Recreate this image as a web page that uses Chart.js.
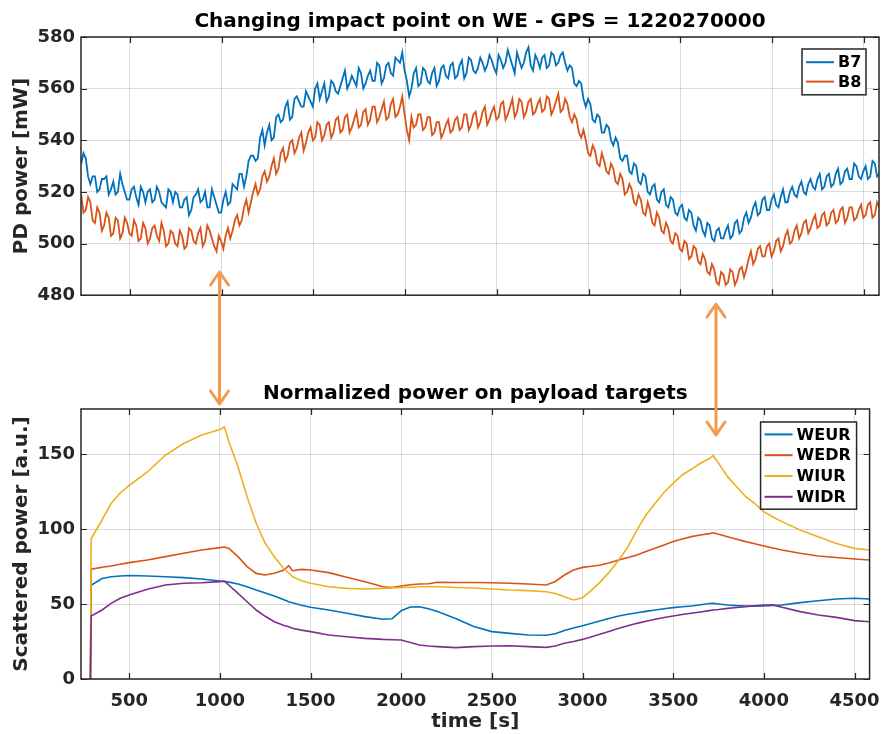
<!DOCTYPE html>
<html>
<head>
<meta charset="utf-8">
<script src="https://cdn.jsdelivr.net/npm/chart.js@4.4.0/dist/chart.umd.min.js"></script>
<style>
  html, body { margin: 0; padding: 0; background: #fff; }
  #page { position: relative; width: 892px; height: 734px; overflow: hidden; background: #fff; }
  #page canvas, #page svg { position: absolute; left: 0; }
  #topChart { top: 0; }
  #bottomChart { top: 370px; }
  #arrows { top: 0; pointer-events: none; }
</style>
</head>
<body>
<div id="page">
  <canvas id="topChart" width="892" height="312"></canvas>
  <canvas id="bottomChart" width="892" height="364"></canvas>
  <svg id="arrows" width="892" height="734">
    <g fill="none" stroke="#f39a4c" stroke-width="3" stroke-linecap="round" stroke-linejoin="round">
      <line x1="219.5" y1="273" x2="219.5" y2="403" />
      <polyline points="210.5,285 219.5,272 228.5,285" />
      <polyline points="210.5,391 219.5,404 228.5,391" />
      <line x1="716" y1="305" x2="716" y2="434" />
      <polyline points="707,317 716,304 725,317" />
      <polyline points="707,422 716,435 725,422" />
    </g>
  </svg>
</div>
<script>
// PD power on the two beams, one sample every 12.5 s starting at t = 235 s
const B7 = [
  531, 535, 533, 526, 523, 526, 526, 520, 521, 525, 525, 526, 519, 521, 524, 519, 520, 527, 523, 520,
  517, 517, 521, 522, 518, 515, 522, 520, 516, 520, 521, 516, 517, 522, 520, 516, 515, 514, 521, 520,
  516, 520, 519, 514, 514, 517, 518, 511, 513, 518, 519, 521, 516, 517, 520, 514, 514, 521, 518, 515,
  512, 512, 517, 520, 515, 516, 523, 522, 521, 527, 527, 522, 526, 532, 534, 534, 532, 533, 541, 544,
  538, 543, 546, 540, 541, 549, 550, 547, 548, 553, 555, 548, 549, 556, 557, 555, 553, 553, 559, 557,
  555, 553, 560, 562, 556, 559, 562, 555, 557, 563, 562, 559, 558, 561, 564, 567, 560, 562, 565, 563,
  561, 568, 566, 560, 562, 565, 567, 563, 563, 570, 569, 562, 564, 569, 570, 566, 565, 572, 571, 570,
  574, 567, 563, 557, 560, 566, 568, 561, 562, 568, 567, 563, 562, 566, 568, 561, 563, 568, 569, 565,
  564, 569, 570, 564, 565, 569, 571, 564, 566, 572, 571, 567, 566, 568, 572, 570, 567, 569, 573, 571,
  568, 566, 573, 571, 568, 570, 575, 572, 569, 566, 574, 571, 568, 570, 574, 576, 569, 567, 573, 571,
  568, 572, 573, 568, 569, 574, 573, 569, 570, 573, 574, 570, 567, 569, 568, 562, 561, 563, 562, 556,
  553, 556, 554, 548, 547, 550, 549, 543, 543, 546, 545, 540, 538, 541, 539, 533, 532, 534, 534, 528,
  527, 531, 530, 524, 523, 527, 526, 520, 519, 522, 523, 517, 516, 520, 521, 515, 514, 518, 517, 512,
  511, 514, 515, 510, 509, 513, 512, 507, 505, 510, 509, 505, 503, 508, 507, 502, 501, 505, 506, 502,
  502, 505, 507, 502, 503, 508, 509, 504, 505, 510, 512, 508, 510, 514, 516, 511, 512, 517, 518, 513,
  513, 517, 519, 515, 514, 518, 521, 516, 516, 520, 522, 519, 518, 522, 524, 520, 519, 523, 525, 522,
  521, 525, 527, 521, 522, 526, 527, 522, 523, 527, 529, 523, 524, 528, 529, 525, 525, 531, 530, 526,
  525, 528, 530, 525, 526, 532, 531, 526, 527
];
const B8 = [
  519, 512, 513, 518, 516, 509, 508, 514, 512, 505, 507, 512, 510, 503, 504, 510, 509, 502, 504, 510,
  508, 504, 503, 509, 507, 501, 502, 508, 506, 500, 502, 506, 507, 503, 501, 508, 505, 499, 500, 505,
  504, 500, 499, 505, 503, 498, 499, 506, 505, 501, 500, 504, 506, 499, 501, 507, 505, 502, 499, 497,
  503, 501, 498, 503, 506, 502, 505, 509, 511, 507, 509, 514, 517, 512, 516, 520, 523, 519, 521, 526,
  528, 524, 526, 530, 533, 527, 529, 535, 537, 532, 534, 539, 540, 535, 537, 541, 543, 536, 539, 543,
  545, 540, 541, 547, 546, 540, 542, 546, 547, 541, 543, 548, 549, 543, 544, 549, 550, 543, 545, 548,
  551, 545, 546, 551, 552, 546, 548, 553, 553, 547, 549, 552, 555, 548, 549, 554, 556, 549, 550, 553,
  557, 550, 544, 540, 549, 545, 546, 550, 550, 544, 545, 549, 549, 542, 543, 547, 547, 541, 543, 546,
  548, 543, 544, 548, 549, 544, 545, 550, 550, 544, 546, 550, 551, 545, 547, 551, 553, 546, 548, 551,
  553, 548, 549, 554, 555, 548, 550, 553, 556, 549, 551, 556, 555, 549, 551, 555, 556, 550, 551, 554,
  556, 551, 552, 557, 556, 550, 552, 555, 558, 551, 552, 556, 554, 549, 547, 550, 548, 543, 541, 544,
  540, 535, 534, 538, 536, 531, 530, 535, 532, 528, 527, 531, 529, 524, 523, 527, 525, 519, 520, 523,
  521, 516, 515, 519, 517, 512, 511, 516, 513, 508, 507, 512, 510, 505, 504, 508, 506, 501, 500, 504,
  503, 498, 497, 501, 500, 494, 495, 499, 498, 493, 492, 496, 494, 489, 488, 492, 490, 485, 484, 489,
  488, 484, 485, 490, 489, 484, 486, 490, 491, 487, 490, 494, 497, 492, 494, 498, 499, 495, 495, 499,
  500, 495, 497, 501, 502, 497, 499, 503, 505, 500, 501, 505, 507, 502, 504, 508, 509, 504, 506, 509,
  511, 506, 507, 511, 512, 507, 508, 512, 513, 508, 509, 513, 514, 508, 510, 514, 514, 509, 510, 513,
  515, 510, 511, 515, 516, 510, 511, 516, 514
];
const beamTimes = B7.map((_, i) => 235 + 12.5 * i);

// scattered power on the payload targets
const targetTimes = [
  286, 290, 350, 400, 450, 500, 600, 700, 800, 900,
  1000, 1025, 1050, 1100, 1150, 1200, 1250, 1300, 1350, 1380,
  1400, 1450, 1500, 1600, 1700, 1800, 1900, 1950, 2000, 2050,
  2100, 2150, 2200, 2300, 2400, 2500, 2600, 2700, 2800, 2850,
  2900, 2950, 3000, 3050, 3100, 3150, 3200, 3250, 3300, 3350,
  3400, 3450, 3500, 3550, 3600, 3650, 3700, 3720, 3750, 3800,
  3850, 3900, 3950, 4000, 4050, 4100, 4200, 4300, 4400, 4500,
  4583
];
const WEUR = [
  0, 62.5, 67, 68.2, 68.7, 69, 68.7, 68.2, 67.6, 66.7,
  65.3, 65, 64.6, 63.3, 61.5, 59.3, 57.3, 55.3, 53, 51.5,
  50.9, 49.2, 47.8, 46, 43.8, 41.6, 39.8, 40.2, 45.5, 48,
  48.2, 46.8, 45, 40.4, 35, 31.6, 30.4, 29.3, 29.2, 30.2,
  32.4, 34, 35.5, 37.2, 38.9, 40.5, 42, 43.2, 44.2, 45.1,
  46, 46.8, 47.6, 48.2, 48.7, 49.5, 50.3, 50.4, 50, 49.3,
  48.9, 48.7, 48.6, 48.7, 49, 49.3, 50.9, 52.2, 53.3, 53.8,
  53.3
];
const WEDR = [
  0, 73.2, 74.5, 75.3, 76.5, 77.6, 79.3, 81.6, 83.8, 86,
  87.6, 88, 87, 81.6, 74.9, 70.4, 69.3, 70.5, 72.5, 75.5,
  72.2, 73.1, 72.7, 70.9, 67.8, 64.9, 61.5, 61, 62, 62.8,
  63.3, 63.5, 64.5, 64.3, 64.3, 64.2, 63.8, 63.3, 62.7, 65,
  69.3, 72.7, 74.4, 75.2, 76, 77.5, 79.3, 81, 82.7, 85,
  87.1, 89.4, 91.6, 93.4, 94.9, 96, 96.9, 97.5, 96.5, 94.9,
  93.2, 91.6, 90.2, 88.7, 87.3, 86, 83.8, 82, 81, 80,
  79.3
];
const WIUR = [
  0, 93.5, 106, 117, 124, 129, 138, 149.3, 157, 162.7,
  166.4, 168, 158, 141.5, 121.5, 103.8, 90.4, 81.5, 73.8, 70.5,
  68.2, 65.5, 63.8, 61.5, 60.4, 60, 60.4, 60.7, 61, 61.2,
  61.5, 61.5, 61.5, 61, 60.7, 60, 59.3, 58.9, 58.2, 57,
  54.9, 52.7, 54.2, 59.3, 64.9, 71.6, 79.3, 88.1, 99.3, 109.3,
  117, 124.5, 130.4, 136, 139.8, 143.8, 147, 149, 143.8, 134.9,
  128.2, 121.5, 117, 111.5, 108, 104.9, 99.3, 94.9, 90.4, 87.1,
  86
];
const WIDR = [
  0, 42, 46, 50.4, 53.8, 56, 59.8, 62.7, 63.8, 64.2,
  64.9, 65.2, 62.5, 57.1, 51.5, 46, 41.8, 38.2, 35.8, 34.8,
  33.8, 32.6, 31.6, 29.3, 28.2, 27.1, 26.4, 26.2, 26, 24.3,
  22.7, 22, 21.6, 20.9, 21.6, 22, 22.2, 21.6, 21.1, 22,
  23.8, 25, 26.4, 28.2, 30, 31.9, 33.8, 35.5, 37.1, 38.5,
  39.8, 41, 42, 43, 43.8, 44.7, 45.6, 46, 46.3, 47.1,
  47.7, 48.2, 48.8, 49.3, 49.4, 47.8, 44.9, 42.7, 41.1, 38.9,
  38.2
];

// tick positions
const timeTicks = [500, 1000, 1500, 2000, 2500, 3000, 3500, 4000, 4500];
const powerTicks = [480, 500, 520, 540, 560, 580];
const scatterTicks = [0, 50, 100, 150];

const FONT = '"DejaVu Sans", "Liberation Sans", sans-serif';
const TEXT = '#262626';
const BLUE = '#0072bd', RED = '#d95319', YELLOW = '#edb120', PURPLE = '#7e2f8e';

const bold = size => ({ family: FONT, size: size, weight: 'bold' });
const toPoints = (xs, ys) => xs.map((x, i) => ({ x: x, y: ys[i] }));
const fixedTicks = values => scale => { scale.ticks = values.map(v => ({ value: v })); };
const plainLabel = v => String(v);
const grid = { color: 'rgba(0,0,0,0.14)', lineWidth: 1, drawTicks: false };

// box around the axes with inward tick marks on all four sides
const frameTicks = {
  id: 'frameTicks',
  afterDraw(chart) {
    const { ctx, chartArea: a, scales: { x, y } } = chart;
    ctx.save();
    ctx.strokeStyle = TEXT;
    ctx.lineWidth = 1.2;
    ctx.beginPath();
    x.ticks.forEach(t => {
      const px = Math.round(x.getPixelForValue(t.value)) + 0.5;
      ctx.moveTo(px, a.bottom); ctx.lineTo(px, a.bottom - 6);
      ctx.moveTo(px, a.top); ctx.lineTo(px, a.top + 6);
    });
    y.ticks.forEach(t => {
      const py = Math.round(y.getPixelForValue(t.value)) + 0.5;
      ctx.moveTo(a.left, py); ctx.lineTo(a.left + 6, py);
      ctx.moveTo(a.right, py); ctx.lineTo(a.right - 6, py);
    });
    ctx.stroke();
    ctx.lineWidth = 1.5;
    ctx.strokeRect(a.left, a.top, a.right - a.left, a.bottom - a.top);
    ctx.restore();
  }
};

// legend box sitting inside the top right corner of the axes
const boxLegend = {
  id: 'boxLegend',
  afterDraw(chart, args, opts) {
    const { ctx, chartArea: a } = chart;
    const sets = chart.data.datasets;
    const h = sets.length * opts.rowHeight + 2 * opts.pad;
    const left = a.right - 13 - opts.width;
    const top = a.top + opts.offsetTop;
    ctx.save();
    ctx.fillStyle = '#fff';
    ctx.fillRect(left, top, opts.width, h);
    ctx.strokeStyle = TEXT;
    ctx.lineWidth = 1.5;
    ctx.strokeRect(left, top, opts.width, h);
    ctx.font = 'bold 16px ' + FONT;
    ctx.textBaseline = 'middle';
    sets.forEach((ds, i) => {
      const cy = top + opts.pad + opts.rowHeight * (i + 0.5);
      ctx.strokeStyle = ds.borderColor;
      ctx.lineWidth = 2;
      ctx.beginPath();
      ctx.moveTo(left + 4, cy);
      ctx.lineTo(left + 32, cy);
      ctx.stroke();
      ctx.fillStyle = '#000';
      ctx.fillText(ds.label, left + 36, cy + 1);
    });
    ctx.restore();
  }
};

const xRange = { type: 'linear', min: 234, max: 4583, afterBuildTicks: fixedTicks(timeTicks) };

new Chart(document.getElementById('topChart'), {
  type: 'line',
  data: {
    datasets: [
      { label: 'B7', data: toPoints(beamTimes, B7), borderColor: BLUE, borderWidth: 1.8, order: 2 },
      { label: 'B8', data: toPoints(beamTimes, B8), borderColor: RED, borderWidth: 1.8, order: 1 }
    ]
  },
  options: {
    responsive: false,
    animation: false,
    layout: { padding: { left: 0, right: 13, top: 0, bottom: 6 } },
    elements: { point: { radius: 0 }, line: { tension: 0 } },
    plugins: {
      legend: { display: false },
      tooltip: { enabled: false },
      title: {
        display: true, fullSize: false, color: '#000', font: bold(20),
        text: 'Changing impact point on WE - GPS = 1220270000',
        padding: { top: 10, bottom: 3 }
      },
      boxLegend: { width: 64, rowHeight: 19.4, pad: 3.5, offsetTop: 12 }
    },
    scales: {
      x: Object.assign({}, xRange, {
        afterFit: s => { s.height = 0; },
        ticks: { display: false },
        grid: grid, border: { display: false }
      }),
      y: {
        min: 480, max: 580,
        afterBuildTicks: fixedTicks(powerTicks),
        afterFit: s => { s.width = 81; },
        ticks: { font: bold(18), color: TEXT, padding: 6, callback: plainLabel },
        title: { display: true, text: 'PD power [mW]', font: bold(20), color: TEXT, padding: { top: 10, bottom: 0 } },
        grid: grid, border: { display: false }
      }
    }
  },
  plugins: [frameTicks, boxLegend]
});

new Chart(document.getElementById('bottomChart'), {
  type: 'line',
  data: {
    datasets: [
      { label: 'WEUR', data: toPoints(targetTimes, WEUR), borderColor: BLUE, borderWidth: 1.6, order: 4 },
      { label: 'WEDR', data: toPoints(targetTimes, WEDR), borderColor: RED, borderWidth: 1.6, order: 3 },
      { label: 'WIUR', data: toPoints(targetTimes, WIUR), borderColor: YELLOW, borderWidth: 1.6, order: 2 },
      { label: 'WIDR', data: toPoints(targetTimes, WIDR), borderColor: PURPLE, borderWidth: 1.6, order: 1 }
    ]
  },
  options: {
    responsive: false,
    animation: false,
    layout: { padding: { left: 0, right: 13, top: 0, bottom: 0 } },
    elements: { point: { radius: 0 }, line: { tension: 0 } },
    plugins: {
      legend: { display: false },
      tooltip: { enabled: false },
      title: {
        display: true, fullSize: false, color: '#000', font: bold(20),
        text: 'Normalized power on payload targets',
        padding: { top: 12, bottom: 3 }
      },
      boxLegend: { width: 96, rowHeight: 20.8, pad: 2, offsetTop: 13 }
    },
    scales: {
      x: Object.assign({}, xRange, {
        afterFit: s => { s.height = 55; },
        ticks: { font: bold(18), color: TEXT, padding: 12, maxRotation: 0, callback: plainLabel },
        title: { display: true, text: 'time [s]', font: bold(20), color: TEXT, padding: { top: 0, bottom: 0 } },
        grid: grid, border: { display: false }
      }),
      y: {
        min: 0, max: 180,
        afterBuildTicks: fixedTicks(scatterTicks),
        afterFit: s => { s.width = 81; },
        ticks: { font: bold(18), color: TEXT, padding: 6, callback: plainLabel },
        title: { display: true, text: 'Scattered power [a.u.]', font: bold(20), color: TEXT, padding: { top: 10, bottom: 0 } },
        grid: grid, border: { display: false }
      }
    }
  },
  plugins: [frameTicks, boxLegend]
});
</script>
</body>
</html>
